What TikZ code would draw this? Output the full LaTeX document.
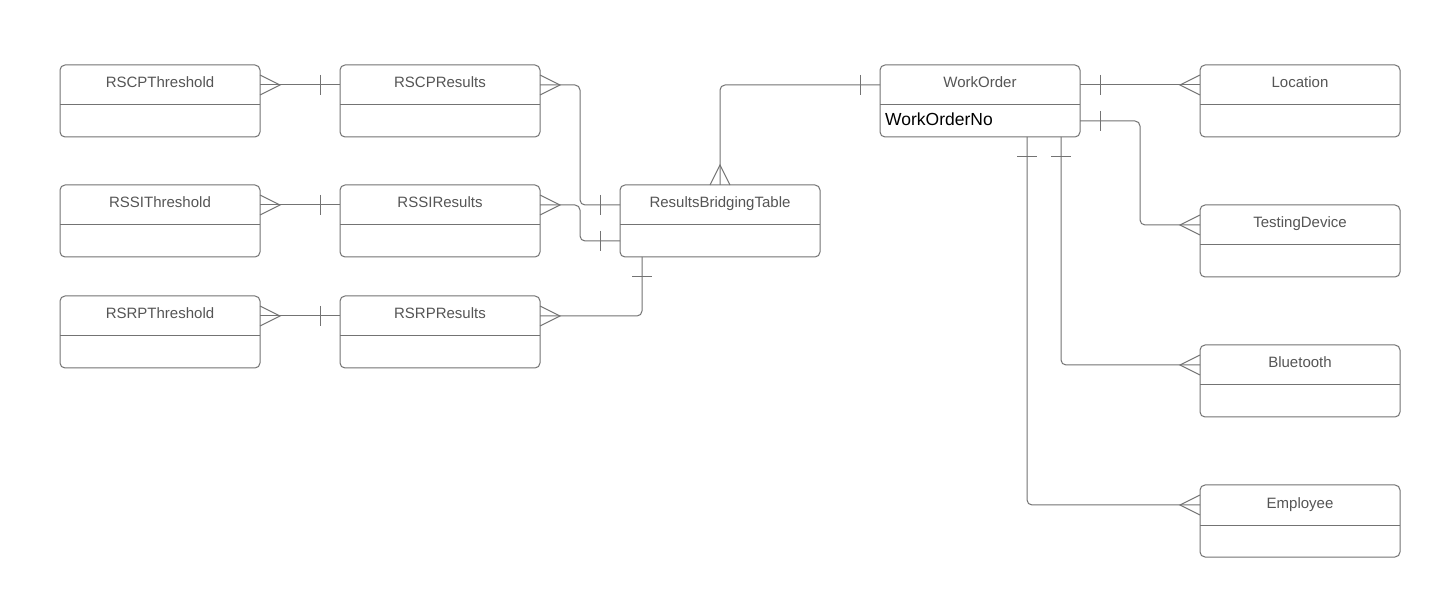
\documentclass[tikz,border=0pt]{standalone}
\usepackage{fontspec}
\setmainfont{Liberation Sans}
\usetikzlibrary{calc}
\definecolor{linegray}{HTML}{737373}
\definecolor{textgray}{HTML}{555555}
\tikzset{
  ln/.style={draw=linegray, line width=1pt},
  ent/.style={ln, rounded corners=5pt, minimum width=200pt, minimum height=72pt, inner sep=0pt, outer sep=0pt},
  ttl/.style={anchor=base, text=textgray, inner sep=0pt, font=\fontsize{15}{18}\selectfont},
  attr/.style={anchor=base west, text=black, inner sep=0pt, font=\fontsize{17.5}{20}\selectfont},
  conn/.style={ln, rounded corners=5pt},
}
\newcommand\entbox[4]{%
  \node[ent] (#1) at (#2+100,#3+36) {};
  \draw[ln] ([yshift=-40pt]#1.north west) -- ([yshift=-40pt]#1.north east);
  \node[ttl] (#1-t) at ([yshift=-23pt]#1.north) {#4};
}
\begin{document}
\begin{tikzpicture}[x=1pt,y=-1pt]
\useasboundingbox (0,0) rectangle (1452,609);
\fill[white] (0,0) rectangle (1452,609);
% entities
\entbox{cpt}{60}{65}{RSCPThreshold}
\entbox{cpr}{340}{65}{RSCPResults}
\entbox{sit}{60}{185}{RSSIThreshold}
\entbox{sir}{340}{185}{RSSIResults}
\entbox{rpt}{60}{296}{RSRPThreshold}
\entbox{rpr}{340}{296}{RSRPResults}
\entbox{brg}{620}{185}{ResultsBridgingTable}
\entbox{wo}{880}{65}{WorkOrder}
\entbox{loc}{1200}{65}{Location}
\entbox{tdv}{1200}{205}{TestingDevice}
\entbox{blt}{1200}{345}{Bluetooth}
\entbox{emp}{1200}{485}{Employee}
\node[attr] (wono) at (885,125.5) {WorkOrderNo};
% connector end points
\coordinate (cptE) at ([yshift=-20pt]cpt.north east);
\coordinate (cprW) at ([yshift=-20pt]cpr.north west);
\coordinate (cprE) at ([yshift=-20pt]cpr.north east);
\coordinate (sitE) at ([yshift=-20pt]sit.north east);
\coordinate (sirW) at ([yshift=-20pt]sir.north west);
\coordinate (sirE) at ([yshift=-20pt]sir.north east);
\coordinate (rptE) at ([yshift=-20pt]rpt.north east);
\coordinate (rprW) at ([yshift=-20pt]rpr.north west);
\coordinate (rprE) at ([yshift=-20pt]rpr.north east);
\coordinate (brgW1) at ([yshift=-20pt]brg.north west);
\coordinate (brgW2) at ([yshift=-56pt]brg.north west);
\coordinate (brgS) at ([xshift=22pt]brg.south west);
\coordinate (brgN) at (brg.north);
\coordinate (woW) at ([yshift=-20pt]wo.north west);
\coordinate (woE1) at ([yshift=-20pt]wo.north east);
\coordinate (woE2) at ([yshift=-56pt]wo.north east);
\coordinate (woS1) at ([xshift=147pt]wo.south west);
\coordinate (woS2) at ([xshift=181pt]wo.south west);
\coordinate (locW) at ([yshift=-20pt]loc.north west);
\coordinate (tdvW) at ([yshift=-20pt]tdv.north west);
\coordinate (bltW) at ([yshift=-20pt]blt.north west);
\coordinate (empW) at ([yshift=-20pt]emp.north west);
% connectors
\draw[conn] (cptE) -- (cprW);
\draw[conn] (sitE) -- (sirW);
\draw[conn] (rptE) -- (rprW);
\draw[conn] (cprE) -- (580,85) -- (580,205) -- (brgW1);
\draw[conn] (sirE) -- (580,205) -- (580,241) -- (brgW2);
\draw[conn] (rprE) -- (brgS|-rprE) -- (brgS);
\draw[conn] (brgN) -- (brgN|-woW) -- (woW);
\draw[conn] (woE1) -- (locW);
\draw[conn] (woE2) -- (1140,121) -- (1140,225) -- (tdvW);
\draw[conn] (woS2) -- (woS2|-bltW) -- (bltW);
\draw[conn] (woS1) -- (woS1|-empW) -- (empW);
% crow's feet (many)
\draw[ln] (cptE) ++(0,-10) -- ++(20,10) -- ++(-20,10);
\draw[ln] (sitE) ++(0,-10) -- ++(20,10) -- ++(-20,10);
\draw[ln] (rptE) ++(0,-10) -- ++(20,10) -- ++(-20,10);
\draw[ln] (cprE) ++(0,-10) -- ++(20,10) -- ++(-20,10);
\draw[ln] (sirE) ++(0,-10) -- ++(20,10) -- ++(-20,10);
\draw[ln] (rprE) ++(0,-10) -- ++(20,10) -- ++(-20,10);
\draw[ln] (brgN) ++(-10,0) -- ++(10,-20) -- ++(10,20);
\draw[ln] (locW) ++(0,-10) -- ++(-20,10) -- ++(20,10);
\draw[ln] (tdvW) ++(0,-10) -- ++(-20,10) -- ++(20,10);
\draw[ln] (bltW) ++(0,-10) -- ++(-20,10) -- ++(20,10);
\draw[ln] (empW) ++(0,-10) -- ++(-20,10) -- ++(20,10);
% bars (one)
\draw[ln] (cprW) ++(-20,-10) -- ++(0,20);
\draw[ln] (sirW) ++(-20,-10) -- ++(0,20);
\draw[ln] (rprW) ++(-20,-10) -- ++(0,20);
\draw[ln] (brgW1) ++(-20,-10) -- ++(0,20);
\draw[ln] (brgW2) ++(-20,-10) -- ++(0,20);
\draw[ln] (brgS) ++(-10,20) -- ++(20,0);
\draw[ln] (woW) ++(-20,-10) -- ++(0,20);
\draw[ln] (woE1) ++(20,-10) -- ++(0,20);
\draw[ln] (woE2) ++(20,-10) -- ++(0,20);
\draw[ln] (woS1) ++(-10,20) -- ++(20,0);
\draw[ln] (woS2) ++(-10,20) -- ++(20,0);
\end{tikzpicture}
\end{document}
